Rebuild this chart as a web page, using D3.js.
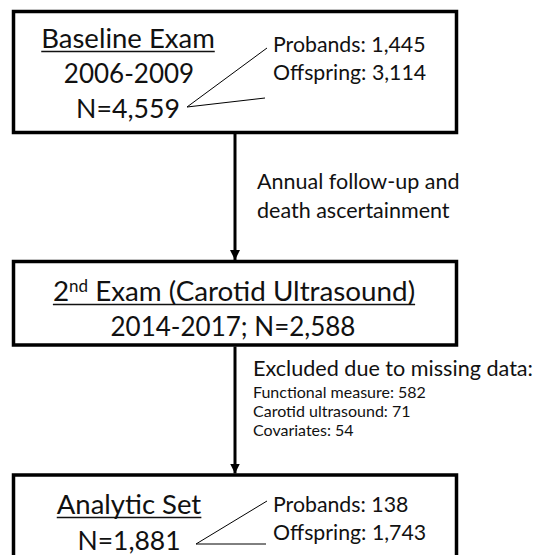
<!DOCTYPE html>
<html>
<head>
<meta charset="utf-8">
<script src="https://cdn.jsdelivr.net/npm/d3@7"></script>
<style>
  body { margin: 0; background: #fff; }
  svg { display: block; }
  text { font-family: Lato, "Open Sans", sans-serif; fill: #111; }
</style>
</head>
<body>
<svg class="chart"></svg>
<script>
// flow stages
var stageTitles = ["Baseline Exam", "Exam (Carotid Ultrasound)", "Analytic Set"];
var stageYears = ["2006-2009", "2014-2017", ""];
var stageN = [4559, 2588, 1881];

// sub groups
var groupNames = ["Probands", "Offspring"];
var baselineGroups = [1445, 3114];
var analyticGroups = [138, 1743];

// notes beside the arrows
var followUpNote = ["Annual follow-up and", "death ascertainment"];
var exclusionTitle = "Excluded due to missing data:";
var exclusionReasons = ["Functional measure", "Carotid ultrasound", "Covariates"];
var exclusionCounts = [582, 71, 54];

var width = 542, height = 555;
var fmt = d3.format(",");

var svg = d3.select(".chart")
	.attr("width", width)
	.attr("height", height);

// box layout (top, bottom) for each stage
var boxLeft = 13.5, boxRight = 456.5;
var boxTop = [11.5, 261.5, 475];
var boxBottom = [132.5, 345, 600];
var arrowX = 235;

function underline(sel) {
	sel.each(function() {
		var b = this.getBBox();
		svg.append("line")
			.attr("x1", b.x).attr("x2", b.x + b.width)
			.attr("y1", +this.getAttribute("y") + 3.5)
			.attr("y2", +this.getAttribute("y") + 3.5)
			.attr("stroke", "#111")
			.attr("stroke-width", 1.5);
	});
}

// arrows first so boxes sit on top
svg.append("defs").append("marker")
	.attr("id", "head")
	.attr("viewBox", "0 0 10 10")
	.attr("refX", 10).attr("refY", 5)
	.attr("markerWidth", 10).attr("markerHeight", 10)
	.attr("markerUnits", "userSpaceOnUse")
	.attr("orient", "auto")
  .append("path")
	.attr("d", "M0,0L10,5L0,10Z")
	.attr("fill", "#000");

[0, 1].forEach(function(i) {
	svg.append("line")
		.attr("x1", arrowX).attr("x2", arrowX)
		.attr("y1", boxBottom[i] + 1.5)
		.attr("y2", boxTop[i + 1] - 1.5)
		.attr("stroke", "#000")
		.attr("stroke-width", 3)
		.attr("marker-end", "url(#head)");
});

svg.selectAll("rect.box")
	.data(stageTitles)
  .enter().append("rect")
	.attr("class", "box")
	.attr("x", boxLeft)
	.attr("y", function(d, i) { return boxTop[i]; })
	.attr("width", boxRight - boxLeft)
	.attr("height", function(d, i) { return boxBottom[i] - boxTop[i]; })
	.attr("fill", "#fff")
	.attr("stroke", "#000")
	.attr("stroke-width", 3.5);

// box 1
var t1 = svg.append("text")
	.attr("x", 128).attr("y", 48)
	.attr("text-anchor", "middle")
	.style("font-size", "27.5px")
	.text(stageTitles[0]);
underline(t1);
svg.append("text")
	.attr("x", 129).attr("y", 83)
	.attr("text-anchor", "middle")
	.style("font-size", "26px")
	.text(stageYears[0]);
svg.append("text")
	.attr("x", 128).attr("y", 118)
	.attr("text-anchor", "middle")
	.style("font-size", "26.7px")
	.text("N=" + fmt(stageN[0]));

function callout(fromX, fromY, tipX, ys, textYs, labels, values, size) {
	ys.forEach(function(y, i) {
		svg.append("line")
			.attr("x1", fromX).attr("y1", fromY)
			.attr("x2", tipX[i]).attr("y2", y)
			.attr("stroke", "#000")
			.attr("stroke-width", 1);
	});
	labels.forEach(function(d, i) {
		svg.append("text")
			.attr("x", tipX[0] + 6)
			.attr("y", textYs[i])
			.style("font-size", size)
			.text(d + ": " + fmt(values[i]));
	});
}
callout(187, 107, [267, 265], [48, 98], [52, 80], groupNames, baselineGroups, "21.3px");

// follow-up note
svg.selectAll("text.note")
	.data(followUpNote)
  .enter().append("text")
	.attr("class", "note")
	.attr("x", 257)
	.attr("y", function(d, i) { return 189 + i * 29; })
	.style("font-size", "21.5px")
	.text(function(d) { return d; });

// box 2
var t2 = svg.append("text")
	.attr("x", 234).attr("y", 301)
	.attr("text-anchor", "middle")
	.style("font-size", "27.8px");
t2.append("tspan").text("2");
t2.append("tspan").attr("dy", -9).style("font-size", "17px").text("nd");
t2.append("tspan").attr("dy", 9).text(" " + stageTitles[1]);
underline(t2);
svg.append("text")
	.attr("x", 233).attr("y", 335.5)
	.attr("text-anchor", "middle")
	.style("font-size", "26px")
	.text(stageYears[1] + "; N=" + fmt(stageN[1]));

// exclusions
svg.append("text")
	.attr("x", 253).attr("y", 376)
	.style("font-size", "21.6px")
	.text(exclusionTitle);
svg.selectAll("text.excl")
	.data(exclusionReasons)
  .enter().append("text")
	.attr("class", "excl")
	.attr("x", 253)
	.attr("y", function(d, i) { return 397.5 + i * 19; })
	.style("font-size", "16px")
	.text(function(d, i) { return d + ": " + exclusionCounts[i]; });

// box 3
var t3 = svg.append("text")
	.attr("x", 129).attr("y", 514)
	.attr("text-anchor", "middle")
	.style("font-size", "27.5px")
	.text(stageTitles[2]);
underline(t3);
svg.append("text")
	.attr("x", 129).attr("y", 550)
	.attr("text-anchor", "middle")
	.style("font-size", "26.5px")
	.text("N=" + fmt(stageN[2]));
callout(196, 544, [267, 266], [501, 544], [512, 540], groupNames, analyticGroups, "21.3px");
</script>
</body>
</html>
